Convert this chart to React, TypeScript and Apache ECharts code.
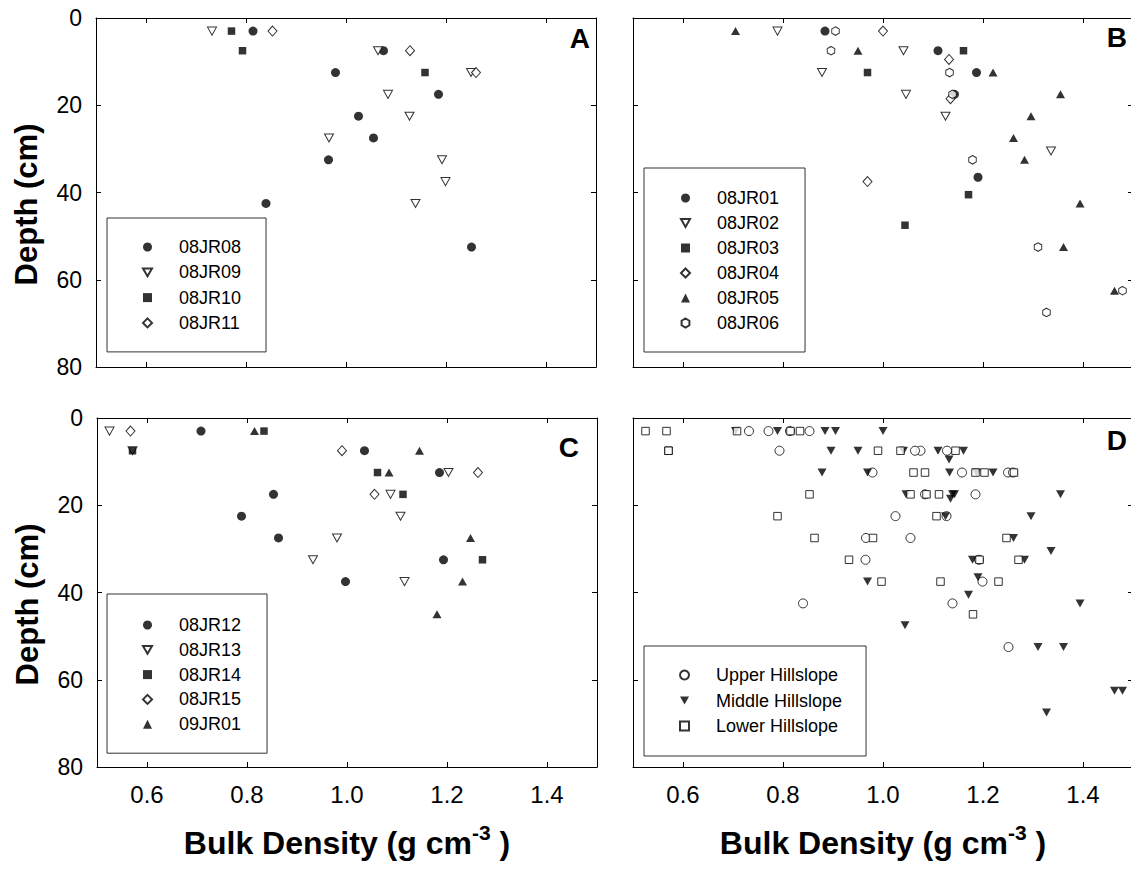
import React, { useEffect, useRef } from "react";
import * as echarts from "echarts";

type Pt = [number, number]; // [bulk density g/cm3, depth cm]

// Panel A profiles
const jr08: Pt[] = [[0.814, 3], [1.075, 7.5], [0.979, 12.5], [1.185, 17.5], [1.025, 22.5], [1.055, 27.5], [0.965, 32.5], [0.84, 42.5], [1.251, 52.5]];
const jr09: Pt[] = [[0.732, 3], [1.064, 7.5], [1.25, 12.5], [1.084, 17.5], [1.127, 22.5], [0.966, 27.5], [1.192, 32.5], [1.199, 37.5], [1.139, 42.5]];
const jr10: Pt[] = [[0.771, 3], [0.793, 7.5], [1.158, 12.5]];
const jr11: Pt[] = [[0.853, 3], [1.128, 7.5], [1.26, 12.5]];

// Panel B profiles
const jr01: Pt[] = [[0.884, 3], [1.11, 7.5], [1.187, 12.5], [1.143, 17.5], [1.19, 36.5]];
const jr02: Pt[] = [[0.789, 3], [1.041, 7.5], [0.878, 12.5], [1.046, 17.5], [1.125, 22.5], [1.336, 30.5]];
const jr03: Pt[] = [[1.161, 7.5], [0.969, 12.5], [1.171, 40.5], [1.044, 47.5]];
const jr04: Pt[] = [[1.0, 3], [1.132, 9.5], [1.135, 18.5], [0.969, 37.5]];
const jr05: Pt[] = [[0.705, 3], [0.95, 7.5], [1.22, 12.5], [1.355, 17.5], [1.296, 22.5], [1.261, 27.5], [1.283, 32.5], [1.394, 42.5], [1.361, 52.5], [1.463, 62.5]];
const jr06: Pt[] = [[0.905, 3], [0.896, 7.5], [1.133, 12.5], [1.139, 17.5], [1.179, 32.5], [1.31, 52.5], [1.479, 62.5], [1.327, 67.5]];

// Panel C profiles
const jr12: Pt[] = [[0.708, 3], [1.035, 7.5], [1.185, 12.5], [0.853, 17.5], [0.789, 22.5], [0.863, 27.5], [1.193, 32.5], [0.997, 37.5]];
const jr13: Pt[] = [[0.525, 3], [0.571, 7.5], [1.203, 12.5], [1.087, 17.5], [1.107, 22.5], [0.98, 27.5], [0.932, 32.5], [1.115, 37.5]];
const jr14: Pt[] = [[0.834, 3], [0.571, 7.5], [1.061, 12.5], [1.112, 17.5], [1.271, 32.5]];
const jr15: Pt[] = [[0.567, 3], [0.99, 7.5], [1.262, 12.5], [1.055, 17.5]];
const jr901: Pt[] = [[0.815, 3], [1.145, 7.5], [1.084, 12.5], [1.247, 27.5], [1.231, 37.5], [1.18, 45]];

// Axis ticks
const densityTicks = [0.6, 0.8, 1.0, 1.2, 1.4];
const densityMin = 0.5;
const densityMax = 1.5;
const depthMin = 0;
const depthMax = 80;
const depthStep = 20;

const FONT = "'Liberation Sans', Arial, Helvetica, sans-serif";
const INK = "#000";

const open = { color: "#fff", borderColor: INK, borderWidth: 1 };
const solid = { color: INK, borderWidth: 0 };
const HEX = "path://M0,-10L8.66,-5L8.66,5L0,10L-8.66,5L-8.66,-5Z";
const DOWN = "path://M0,0L10,0L5,8.66Z";

const mk = {
  dot: { symbol: "circle", symbolSize: 9, itemStyle: solid },
  openDown: { symbol: DOWN, symbolSize: [9, 8], itemStyle: open },
  square: { symbol: "rect", symbolSize: 7.5, itemStyle: solid },
  openDiamond: { symbol: "diamond", symbolSize: [9, 10], itemStyle: open },
  up: { symbol: "triangle", symbolSize: [9, 8], itemStyle: solid },
  openHex: { symbol: HEX, symbolSize: [7.5, 8.5], itemStyle: open },
  ring: { symbol: "circle", symbolSize: 9, itemStyle: open },
  down: { symbol: DOWN, symbolSize: [9, 8], itemStyle: solid },
  openSquare: { symbol: "rect", symbolSize: 7.5, itemStyle: open },
};

type Group = { name: string; data: Pt[]; marker: any };

const panels: {
  letter: string;
  left: number;
  top: number;
  showX: boolean;
  showY: boolean;
  letterX: number;
  letterY: number;
  legend: { left: number; top: number; padding: number[]; gap: number };
  groups: Group[];
}[] = [
  {
    letter: "A", left: 96, top: 18, showX: false, showY: true, letterX: 590, letterY: 38,
    legend: { left: 107, top: 218, padding: [20, 25, 20, 35], gap: 7.3 },
    groups: [
      { name: "08JR08", data: jr08, marker: mk.dot },
      { name: "08JR09", data: jr09, marker: mk.openDown },
      { name: "08JR10", data: jr10, marker: mk.square },
      { name: "08JR11", data: jr11, marker: mk.openDiamond },
    ],
  },
  {
    letter: "B", left: 633, top: 18, showX: false, showY: false, letterX: 1127, letterY: 37.5,
    legend: { left: 644, top: 168, padding: [21, 26, 20, 36], gap: 7 },
    groups: [
      { name: "08JR01", data: jr01, marker: mk.dot },
      { name: "08JR02", data: jr02, marker: mk.openDown },
      { name: "08JR03", data: jr03, marker: mk.square },
      { name: "08JR04", data: jr04, marker: mk.openDiamond },
      { name: "08JR05", data: jr05, marker: mk.up },
      { name: "08JR06", data: jr06, marker: mk.openHex },
    ],
  },
  {
    letter: "C", left: 97, top: 418, showX: true, showY: true, letterX: 579, letterY: 447,
    legend: { left: 107, top: 594, padding: [22, 26, 20, 35], gap: 6.8 },
    groups: [
      { name: "08JR12", data: jr12, marker: mk.dot },
      { name: "08JR13", data: jr13, marker: mk.openDown },
      { name: "08JR14", data: jr14, marker: mk.square },
      { name: "08JR15", data: jr15, marker: mk.openDiamond },
      { name: "09JR01", data: jr901, marker: mk.up },
    ],
  },
  {
    letter: "D", left: 633, top: 418, showX: true, showY: false, letterX: 1127, letterY: 440,
    legend: { left: 644, top: 646, padding: [20, 24, 21, 35], gap: 7.5 },
    groups: [
      { name: "Upper Hillslope", data: [...jr08, ...jr09, ...jr10, ...jr11], marker: mk.ring },
      { name: "Middle Hillslope", data: [...jr01, ...jr02, ...jr03, ...jr04, ...jr05, ...jr06], marker: mk.down },
      { name: "Lower Hillslope", data: [...jr12, ...jr13, ...jr14, ...jr15, ...jr901], marker: mk.openSquare },
    ],
  },
];

const PW = 500;
const PH = 349;

function buildOption() {
  const frame = { show: true, onZero: false, lineStyle: { color: INK, width: 1 } };
  const tick = { show: true, inside: true, length: 5, lineStyle: { color: INK, width: 1 } };

  const grid: any[] = [];
  const xAxis: any[] = [];
  const yAxis: any[] = [];
  const series: any[] = [];
  const legend: any[] = [];
  const graphic: any[] = [];

  panels.forEach((p, gi) => {
    grid.push({ left: p.left, top: p.top, width: PW, height: PH, containLabel: false });

    const xBase = {
      type: "value", gridIndex: gi, min: densityMin, max: densityMax,
      axisLine: frame, splitLine: { show: false },
      axisTick: { ...tick, customValues: densityTicks },
    };
    xAxis.push({
      ...xBase,
      position: "bottom",
      axisLabel: {
        show: p.showX, customValues: densityTicks, formatter: (v: number) => v.toFixed(1),
        fontSize: 24, color: INK, fontFamily: FONT, margin: 15,
      },
      name: p.showX ? "{t|Bulk Density (g cm}{s|-3}{t| )}" : "",
      nameLocation: "middle",
      nameGap: 55,
      nameTextStyle: {
        rich: {
          t: { fontSize: 32, lineHeight: 42, fontWeight: "bold", fontFamily: FONT, color: INK },
          s: { fontSize: 21, lineHeight: 22, fontWeight: "bold", fontFamily: FONT, color: INK, verticalAlign: "top" },
        },
      },
    });
    xAxis.push({ ...xBase, position: "top", axisLabel: { show: false } });

    const yBase = {
      type: "value", gridIndex: gi, inverse: true, min: depthMin, max: depthMax, interval: depthStep,
      axisLine: frame, splitLine: { show: false }, axisTick: tick,
    };
    yAxis.push({
      ...yBase,
      position: "left",
      axisLabel: { show: p.showY, fontSize: 23, color: INK, fontFamily: FONT, margin: 14 },
      name: p.showY ? "Depth (cm)" : "",
      nameLocation: "middle",
      nameRotate: 90,
      nameGap: 54,
      nameTextStyle: { fontSize: 31, fontWeight: "bold", fontFamily: FONT, color: INK, padding: [0, 24, 0, 0] },
    });
    yAxis.push({ ...yBase, position: "right", axisLabel: { show: false } });

    p.groups.forEach((g) => {
      series.push({
        type: "scatter",
        name: g.name,
        xAxisIndex: gi * 2,
        yAxisIndex: gi * 2,
        data: g.data,
        ...g.marker,
        emphasis: { disabled: true },
      });
    });

    legend.push({
      data: p.groups.map((g) => g.name),
      orient: "vertical",
      align: "left",
      left: p.legend.left,
      top: p.legend.top,
      padding: p.legend.padding,
      itemGap: p.legend.gap,
      itemWidth: 9,
      itemHeight: 9,
      selectedMode: false,
      backgroundColor: "#fff",
      borderColor: "#333",
      borderWidth: 1,
      formatter: (name: string) => "{sp|}" + name,
      textStyle: {
        fontSize: 18, lineHeight: 18, color: INK, fontFamily: FONT,
        rich: { sp: { width: 22 } },
      },
    });

    graphic.push({
      type: "text",
      x: p.letterX,
      y: p.letterY,
      style: {
        text: p.letter, align: "right", verticalAlign: "middle",
        fontSize: 28, fontWeight: "bold", fontFamily: FONT, fill: INK,
      },
    });
  });

  return {
    animation: false,
    backgroundColor: "#fff",
    grid, xAxis, yAxis, series, legend, graphic,
  };
}

export default function App() {
  const ref = useRef<HTMLDivElement>(null);
  useEffect(() => {
    if (!ref.current) return;
    const chart = echarts.init(ref.current, undefined, { renderer: "svg" });
    chart.setOption(buildOption() as any);
    return () => chart.dispose();
  }, []);
  return (
    <div style={{ position: "absolute", left: 0, top: 0, width: 1131, height: 873, overflow: "hidden", background: "#fff" }}>
      <div ref={ref} style={{ width: 1140, height: 873 }} />
    </div>
  );
}
